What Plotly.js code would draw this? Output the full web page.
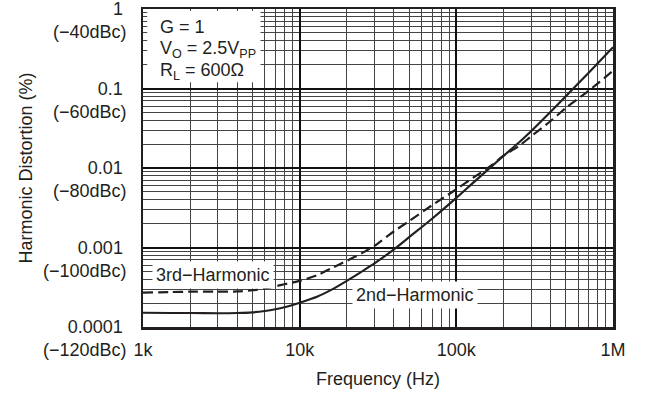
<!DOCTYPE html>
<html>
<head>
<meta charset="utf-8">
<script src="https://cdn.plot.ly/plotly-3.0.1.min.js"></script>
<style>html,body{margin:0;padding:0;background:#fff;}#chart{width:650px;height:398px;}</style>
</head>
<body>
<div id="chart"></div>
<script>
// Frequency (Hz)
const freq = [1000,1500,2000,3000,4000,5000,6000,7000,8000,10000,13000,16000,20000,25000,30000,40000,50000,70000,100000,130000,170000,200000,250000,300000,400000,500000,700000,1000000];
// 2nd harmonic distortion (%)
const second = [1.51e-4,1.50e-4,1.50e-4,1.49e-4,1.50e-4,1.53e-4,1.59e-4,1.67e-4,1.77e-4,2.02e-4,2.42e-4,2.95e-4,3.8e-4,5.0e-4,6.3e-4,9.5e-4,1.35e-3,2.3e-3,4.2e-3,6.7e-3,1.07e-2,1.42e-2,2.08e-2,2.9e-2,5.1e-2,8.0e-2,0.158,0.33];
// 3rd harmonic distortion (%)
const third = [2.7e-4,2.75e-4,2.78e-4,2.78e-4,2.8e-4,2.9e-4,3.05e-4,3.25e-4,3.45e-4,3.8e-4,4.5e-4,5.5e-4,6.8e-4,8.5e-4,1.05e-3,1.6e-3,2.15e-3,3.4e-3,5.4e-3,7.7e-3,1.1e-2,1.43e-2,1.88e-2,2.5e-2,3.9e-2,5.7e-2,9.4e-2,0.167];

const xTickVals = [1e3,1e4,1e5,1e6];
const xTickText = ["1k","10k","100k","1M"];
const yTickVals = [1e-4,1e-3,1e-2,1e-1,1];
const yTickText = ["0.0001","0.001","0.01","0.1","1"];
const yTickDbc = ["(−120dBc)","(−100dBc)","(−80dBc)","(−60dBc)","(−40dBc)"];
const condLines = ["G = 1", "V<sub>O</sub> = 2.5V<sub>PP</sub>", "R<sub>L</sub> = 600Ω"];

const FONT = "Liberation Sans, Arial, sans-serif";
const INK = "#231f20";
const FS = 18;

function minorVals(lo, hi) {
  const v = [];
  for (let e = lo; e < hi; e++) for (let m = 2; m <= 9; m++) v.push(m * Math.pow(10, e));
  return v;
}

const traces = [
  {x: freq, y: third, type: "scatter", mode: "lines", name: "3rd−Harmonic",
   line: {color: INK, width: 2.2, dash: "10px,5px", shape: "spline", smoothing: 0.8}},
  {x: freq, y: second, type: "scatter", mode: "lines", name: "2nd−Harmonic",
   line: {color: INK, width: 2.2, shape: "spline", smoothing: 0.8}}
];

const annotations = yTickVals.map((v, i) => ({
  xref: "paper", yref: "y", x: 0, y: Math.log10(v), xanchor: "right", yanchor: "middle",
  xshift: -14, yshift: -23, showarrow: false, text: yTickDbc[i],
  font: {family: FONT, size: FS, color: INK}
}));

annotations.push({
  xref: "x", yref: "y", x: Math.log10(2800), y: Math.log10(4.5e-4), showarrow: false,
  text: "3rd−Harmonic", bgcolor: "#fff", borderpad: 3,
  font: {family: FONT, size: FS, color: INK}
});
annotations.push({
  xref: "x", yref: "y", x: Math.log10(54500), y: Math.log10(2.5e-4), showarrow: false,
  text: "2nd−Harmonic", bgcolor: "#fff", borderpad: 3,
  font: {family: FONT, size: FS, color: INK}
});
condLines.forEach((t, i) => {
  annotations.push({
    xref: "paper", yref: "paper", x: 0.032, y: 1, xanchor: "left", yanchor: "middle",
    yshift: -17.5 - 22.5 * i, showarrow: false, align: "left", text: t,
    font: {family: FONT, size: FS, color: INK}
  });
});

const layout = {
  width: 650, height: 398,
  margin: {l: 143, r: 37, t: 9, b: 71},
  paper_bgcolor: "#fff", plot_bgcolor: "#fff",
  showlegend: false,
  font: {family: FONT, size: FS, color: INK},
  xaxis: {
    type: "log", range: [3, 6], tickmode: "array", tickvals: xTickVals, ticktext: xTickText,
    ticks: "", ticklabelstandoff: 5, ticklabeloverflow: "allow",
    showgrid: true, gridcolor: "#111", gridwidth: 2,
    minor: {tickmode: "array", tickvals: minorVals(3, 6), showgrid: true, gridcolor: "#444", gridwidth: 1, ticks: ""},
    showline: true, mirror: true, linecolor: INK, linewidth: 2.5, zeroline: false,
    title: {text: "Frequency (Hz)", font: {family: FONT, size: FS, color: INK}, standoff: 14}
  },
  yaxis: {
    type: "log", range: [-4, 0], tickmode: "array", tickvals: yTickVals, ticktext: yTickText,
    ticks: "", ticklabelstandoff: 14, ticklabeloverflow: "allow",
    showgrid: true, gridcolor: "#111", gridwidth: 2,
    minor: {tickmode: "array", tickvals: minorVals(-4, 0), showgrid: true, gridcolor: "#444", gridwidth: 1, ticks: ""},
    showline: true, mirror: true, linecolor: INK, linewidth: 2.5, zeroline: false,
    title: {text: "Harmonic Distortion (%)", font: {family: FONT, size: FS, color: INK}, standoff: 31}
  },
  shapes: [{
    type: "rect", xref: "paper", yref: "paper", x0: 0.009, x1: 0.25, y0: 0.77, y1: 0.994,
    fillcolor: "#fff", line: {width: 0}, layer: "above"
  }],
  annotations: annotations
};

Plotly.newPlot("chart", traces, layout, {staticPlot: true, displayModeBar: false});
</script>
</body>
</html>
